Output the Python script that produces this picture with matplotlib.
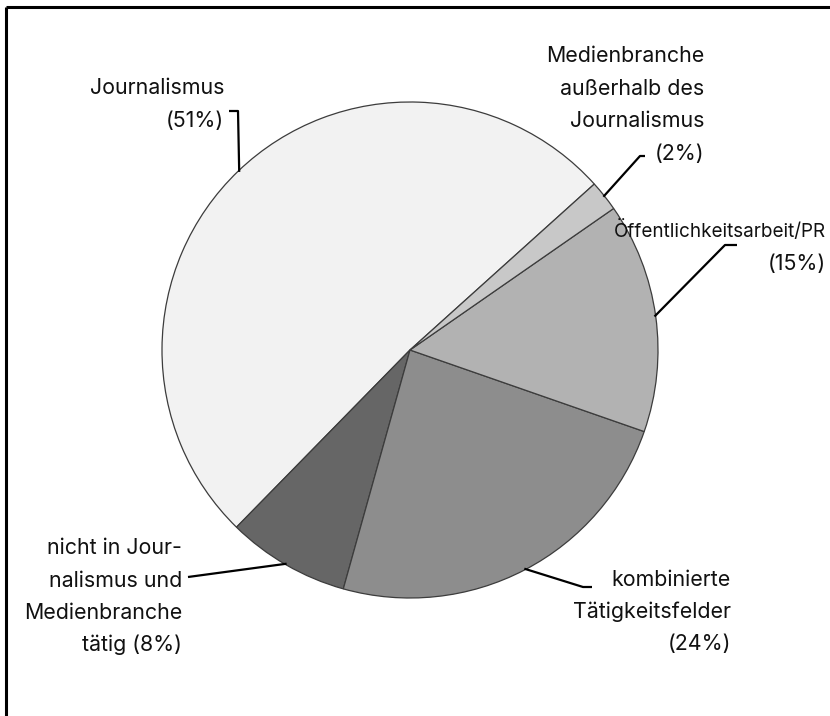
import matplotlib
matplotlib.use("Agg")
import matplotlib.pyplot as plt
import numpy as np

labels = [["Journalismus", "(51%)"],
          ["nicht in Jour-", "nalismus und", "Medienbranche", "tätig (8%)"],
          ["kombinierte", "Tätigkeitsfelder", "(24%)"],
          ["Öffentlichkeitsarbeit/PR", "(15%)"],
          ["Medienbranche", "außerhalb des", "Journalismus", "(2%)"]]
values = [51, 8, 24, 15, 2]
colors = ["#f2f2f2", "#666666", "#8d8d8d", "#b2b2b2", "#c8c8c8"]

W, H = 830, 716
fig = plt.figure(figsize=(W / 100, H / 100), dpi=100)
fig.patch.set_facecolor("white")

cx, cy, r = 410, 350, 248
ax = fig.add_axes([(cx - r) / W, (H - cy - r) / H, 2 * r / W, 2 * r / H])
wedges, _ = ax.pie(values, colors=colors, startangle=42, counterclock=True,
                   wedgeprops=dict(edgecolor="#3c3c3c", linewidth=0.9))
ax.set_xlim(-1, 1)
ax.set_ylim(-1, 1)
ax.set_aspect("auto")
ax.axis("off")

ov = fig.add_axes([0, 0, 1, 1], zorder=5)
ov.set_xlim(0, W)
ov.set_ylim(H, 0)
ov.axis("off")
ov.patch.set_alpha(0)

# frame (top and left only)
ov.plot([6, W], [7, 7], color="black", lw=2.2, solid_capstyle="butt")
ov.plot([6, 6], [7, H], color="black", lw=2.2, solid_capstyle="butt")

# label layout: (leader points after pie edge, text right x, line baselines, first-line size)
layout = [
    ([(238, 111), (229, 111)], 224, [94, 127], 15.4),
    ([(188, 577)], 182, [554, 587, 619, 651], 15.4),
    ([(583, 587), (592, 587)], 731, [586, 618, 650], 15.4),
    ([(725, 245), (737, 245)], 826, [237, 270], 13.6),
    ([(640, 156), (645, 156)], 704, [62, 95, 127, 160], 15.4),
]

for w, lines, (pts, tx, bases, fs0) in zip(wedges, labels, layout):
    mid = np.deg2rad((w.theta1 + w.theta2) / 2)
    px, py = ax.transData.transform((np.cos(mid) * 0.995, np.sin(mid) * 0.995))
    px, py = ov.transData.inverted().transform((px, py))
    xs = [px] + [p[0] for p in pts]
    ys = [py] + [p[1] for p in pts]
    ov.plot(xs, ys, color="black", lw=1.6, solid_capstyle="butt")
    for i, (ln, yb) in enumerate(zip(lines, bases)):
        fs = fs0 if i == 0 else 15.4
        ov.text(tx, yb, ln, ha="right", va="baseline",
                fontsize=fs, family="Inter", color="#111111")

fig.savefig("out.png", dpi=100, facecolor="white")
